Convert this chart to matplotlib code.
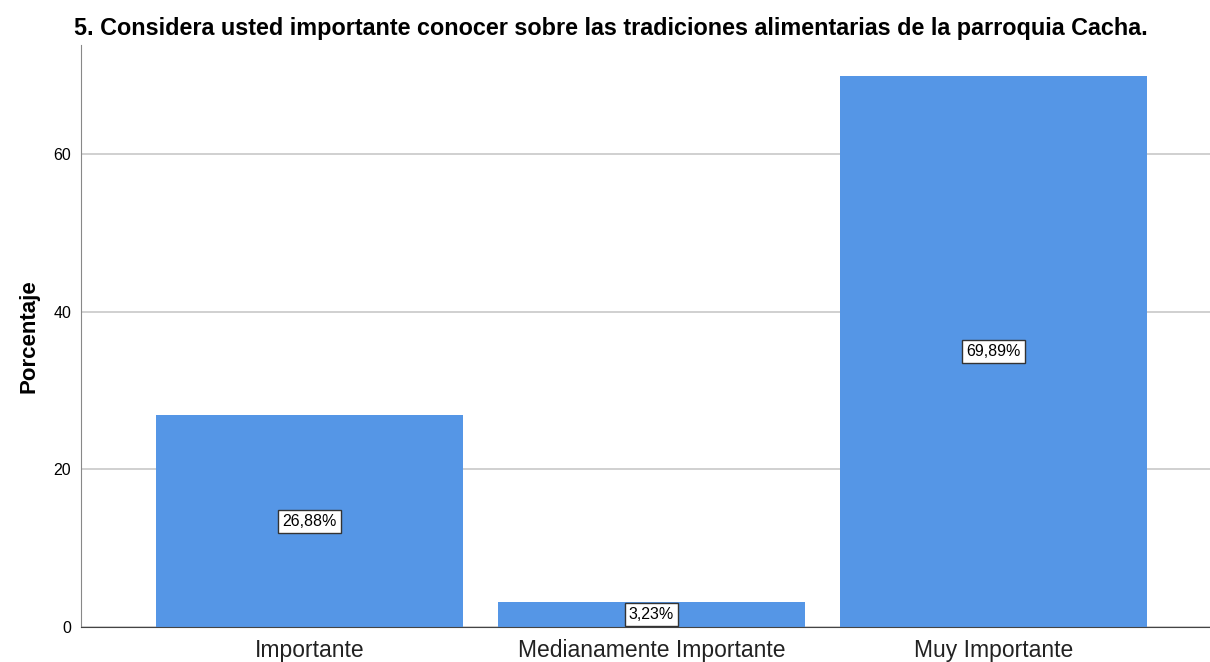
import matplotlib
matplotlib.use('Agg')
from matplotlib import pyplot as plt

categorias = ['Importante', 'Medianamente Importante', 'Muy Importante']
porcentajes = [26.88, 3.23, 69.89]
etiquetas = ['26,88%', '3,23%', '69,89%']

plt.rcParams['font.family'] = ['Liberation Sans', 'DejaVu Sans']

fig = plt.figure(figsize=(12.1, 6.62), dpi=100)
ax = fig.add_axes([81 / 1210, 1 - 627 / 662, 1 - 81 / 1210, (627 - 45) / 662])

x = range(len(categorias))
ax.bar(x, porcentajes, width=0.898, color='#5596E6', zorder=2)
for i, (v, t) in enumerate(zip(porcentajes, etiquetas)):
    ax.text(i, v / 2, t, ha='center', va='center', fontsize=11.5, zorder=3,
            bbox=dict(boxstyle='square,pad=0.25', fc='white', ec='#333333', lw=1))

ax.set_xlim(-0.668, 2.633)
ax.set_ylim(0, 73.8)
ax.set_yticks([0, 20, 40, 60])
ax.yaxis.grid(True, color='#c8c8c8', lw=1.2, zorder=0)
ax.set_xticks(list(x))
ax.set_xticklabels(categorias, fontsize=16.5, color='#222222')
ax.tick_params(axis='x', length=0, pad=9)
ax.tick_params(axis='y', length=0, labelsize=11.5, pad=7)
for s in ['top', 'right']:
    ax.spines[s].set_visible(False)
ax.spines['left'].set_color('#888888')
ax.spines['bottom'].set_color('#444444')
ax.set_ylabel('Porcentaje', fontsize=16, fontweight='bold', labelpad=10)

fig.text(0.505, 1 - 28 / 662, '5. Considera usted importante conocer sobre las tradiciones alimentarias de la parroquia Cacha.',
         ha='center', va='center', fontsize=16.8, fontweight='bold')

fig.savefig('out.png', dpi=100)
